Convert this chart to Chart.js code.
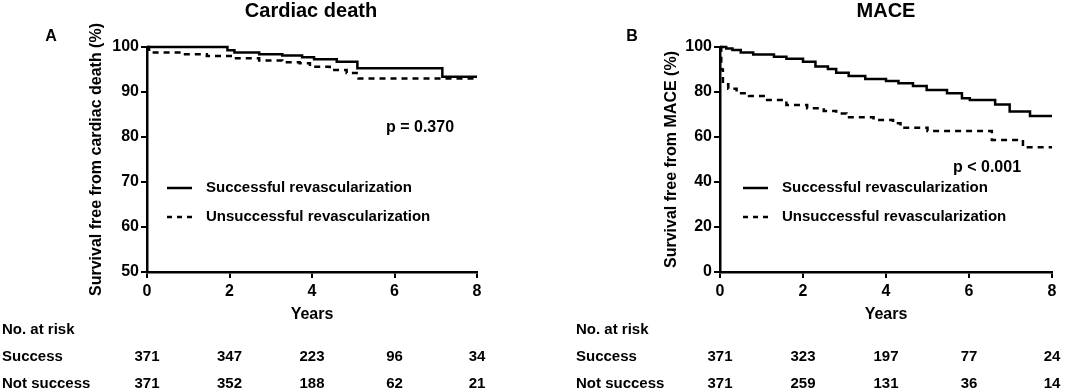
<!DOCTYPE html>
<html>
<head>
<meta charset="utf-8">
<script src="https://cdn.jsdelivr.net/npm/chart.js@4/dist/chart.umd.min.js"></script>
<style>
  body { margin: 0; background: #fff; }
  .panel { position: absolute; top: 0; width: 537px; height: 392px; }
  #left { left: 0; }
  #right { left: 537px; }
</style>
</head>
<body>
<div class="panel" id="left"><canvas id="cdChart" width="537" height="392"></canvas></div>
<div class="panel" id="right"><canvas id="maceChart" width="537" height="392"></canvas></div>
<script>
// x axis / risk table time points
const years = [0, 2, 4, 6, 8];

// Cardiac death: step times (years) and survival (%)
const cdSuccessT = [0, 1.95, 2.12, 2.72, 3.28, 3.76, 4.05, 4.6, 5.1, 7.16, 8];
const cdSuccessS = [100, 99.3, 98.8, 98.4, 98.1, 97.7, 97.3, 96.7, 95.3, 93.4, 93.4];
const cdFailT = [0, 0.05, 0.87, 1.45, 2.07, 2.72, 3.28, 3.7, 3.95, 4.43, 4.84, 5.13, 8];
const cdFailS = [100, 98.8, 98.4, 98.0, 97.5, 97.0, 96.6, 96.4, 95.6, 94.9, 94.2, 93.0, 93.0];

// MACE
const maceSuccessT = [0, 0.15, 0.3, 0.5, 0.8, 1.3, 1.6, 2.0, 2.3, 2.6, 2.8, 3.1, 3.5, 4.0, 4.3, 4.65, 4.98, 5.47, 5.83, 6.02, 6.63, 6.98, 7.47, 8];
const maceSuccessS = [100, 99.3, 98.7, 97.6, 96.7, 95.7, 94.8, 93.5, 91.3, 90.2, 88.6, 87.1, 85.8, 84.9, 83.9, 82.7, 80.9, 79.4, 77.2, 76.4, 74.5, 71.3, 69.3, 69.3];
const maceFailT = [0, 0.03, 0.07, 0.2, 0.4, 0.7, 1.1, 1.6, 2.1, 2.5, 2.8, 3.05, 3.7, 4.17, 4.35, 5.0, 6.55, 7.3, 8];
const maceFailS = [100, 90, 83.5, 81.5, 79.5, 78.2, 76.4, 74.2, 72.8, 71.6, 70.5, 68.8, 67.6, 66.1, 64.1, 62.7, 58.7, 55.4, 55.4];

// numbers at risk
const cdRiskSuccess = [371, 347, 223, 96, 34];
const cdRiskFail = [371, 352, 188, 62, 21];
const maceRiskSuccess = [371, 323, 197, 77, 24];
const maceRiskFail = [371, 259, 131, 36, 14];

const FONT = "'Liberation Sans', Arial, Helvetica, sans-serif";

function toPoints(t, s) {
    return t.map((x, i) => ({ x: x, y: s[i] }));
}

// draws titles, axis title, legend, p value and risk table
const kmExtras = {
    id: 'kmExtras',
    afterDraw(chart, args, opts) {
        const ctx = chart.ctx;
        const area = chart.chartArea;
        const xs = chart.scales.x;
        ctx.save();
        ctx.fillStyle = '#000';
        ctx.strokeStyle = '#000';
        ctx.textBaseline = 'middle';

        // panel title
        ctx.font = 'bold 20px ' + FONT;
        ctx.textAlign = 'center';
        ctx.fillText(opts.title, opts.titleX, 11);

        // panel letter
        ctx.font = 'bold 16px ' + FONT;
        ctx.fillText(opts.letter, opts.letterX, 37);

        // y axis title
        ctx.save();
        ctx.translate(opts.yTitleX, (area.top + area.bottom) / 2);
        ctx.rotate(-Math.PI / 2);
        ctx.font = 'bold 16px ' + FONT;
        ctx.fillText(opts.yTitle, 0, 0);
        ctx.restore();

        // x axis title
        ctx.font = 'bold 16px ' + FONT;
        ctx.fillText('Years', (area.left + area.right) / 2, 315);

        // p value
        ctx.textAlign = 'left';
        ctx.fillText(opts.pText, opts.pX, opts.pY);

        // legend
        ctx.font = 'bold 15px ' + FONT;
        const lx = opts.legendX;
        [[188, [], 'Successful revascularization'], [217, [5, 5], 'Unsuccessful revascularization']].forEach(item => {
            ctx.beginPath();
            ctx.setLineDash(item[1]);
            ctx.lineWidth = 2.5;
            ctx.moveTo(lx, item[0]);
            ctx.lineTo(lx + 25, item[0]);
            ctx.stroke();
            ctx.setLineDash([]);
            ctx.fillText(item[2], lx + 39, item[0]);
        });

        // risk table
        ctx.font = 'bold 15px ' + FONT;
        ctx.fillText('No. at risk', opts.tableX, 330);
        ctx.fillText('Success', opts.tableX, 357);
        ctx.fillText('Not success', opts.tableX, 384);
        ctx.textAlign = 'center';
        years.forEach((yr, i) => {
            const px = xs.getPixelForValue(yr);
            ctx.fillText(String(opts.riskSuccess[i]), px, 357);
            ctx.fillText(String(opts.riskFail[i]), px, 384);
        });
        ctx.restore();
    }
};

function makeChart(canvasId, cfg) {
    const ctx = document.getElementById(canvasId).getContext('2d');
    return new Chart(ctx, {
        type: 'line',
        data: {
            datasets: [{
                label: 'Successful revascularization',
                data: toPoints(cfg.sT, cfg.sS),
                borderColor: '#000',
                borderWidth: 2.5,
                pointRadius: 0,
                stepped: 'before',
                clip: false
            }, {
                label: 'Unsuccessful revascularization',
                data: toPoints(cfg.fT, cfg.fS),
                borderColor: '#000',
                borderWidth: 2.5,
                borderDash: [6, 5],
                pointRadius: 0,
                stepped: 'before',
                clip: false
            }]
        },
        options: {
            responsive: false,
            animation: false,
            layout: {
                padding: { left: cfg.padLeft, right: cfg.padRight, top: 47, bottom: 0 }
            },
            plugins: {
                legend: { display: false },
                tooltip: { enabled: false },
                kmExtras: cfg.extras
            },
            scales: {
                x: {
                    type: 'linear',
                    min: 0,
                    max: 8,
                    afterFit: scale => { scale.height = 120; },
                    ticks: {
                        stepSize: 2,
                        color: '#000',
                        padding: 4,
                        font: { family: FONT, size: 16, weight: 'bold' }
                    },
                    grid: { drawOnChartArea: false, tickLength: 6, color: '#000', lineWidth: 2 },
                    border: { color: '#000', width: 2.5 }
                },
                y: {
                    min: cfg.yMin,
                    max: 100,
                    afterFit: scale => { scale.width = 40; },
                    ticks: {
                        stepSize: cfg.yStep,
                        color: '#000',
                        padding: 2,
                        font: { family: FONT, size: 16, weight: 'bold' }
                    },
                    grid: { drawOnChartArea: false, tickLength: 6, color: '#000', lineWidth: 2 },
                    border: { color: '#000', width: 2.5 }
                }
            }
        },
        plugins: [kmExtras]
    });
}

makeChart('cdChart', {
    sT: cdSuccessT, sS: cdSuccessS, fT: cdFailT, fS: cdFailS,
    yMin: 50, yStep: 10,
    padLeft: 107, padRight: 60,
    extras: {
        title: 'Cardiac death', titleX: 311,
        letter: 'A', letterX: 51,
        yTitle: 'Survival free from cardiac death (%)', yTitleX: 97,
        pText: 'p = 0.370', pX: 386, pY: 128,
        legendX: 167,
        tableX: 2,
        riskSuccess: cdRiskSuccess, riskFail: cdRiskFail
    }
});

makeChart('maceChart', {
    sT: maceSuccessT, sS: maceSuccessS, fT: maceFailT, fS: maceFailS,
    yMin: 0, yStep: 20,
    padLeft: 143, padRight: 22,
    extras: {
        title: 'MACE', titleX: 349,
        letter: 'B', letterX: 95,
        yTitle: 'Survival free from MACE (%)', yTitleX: 135,
        pText: 'p < 0.001', pX: 416, pY: 168,
        legendX: 206,
        tableX: 39,
        riskSuccess: maceRiskSuccess, riskFail: maceRiskFail
    }
});
</script>
</body>
</html>
